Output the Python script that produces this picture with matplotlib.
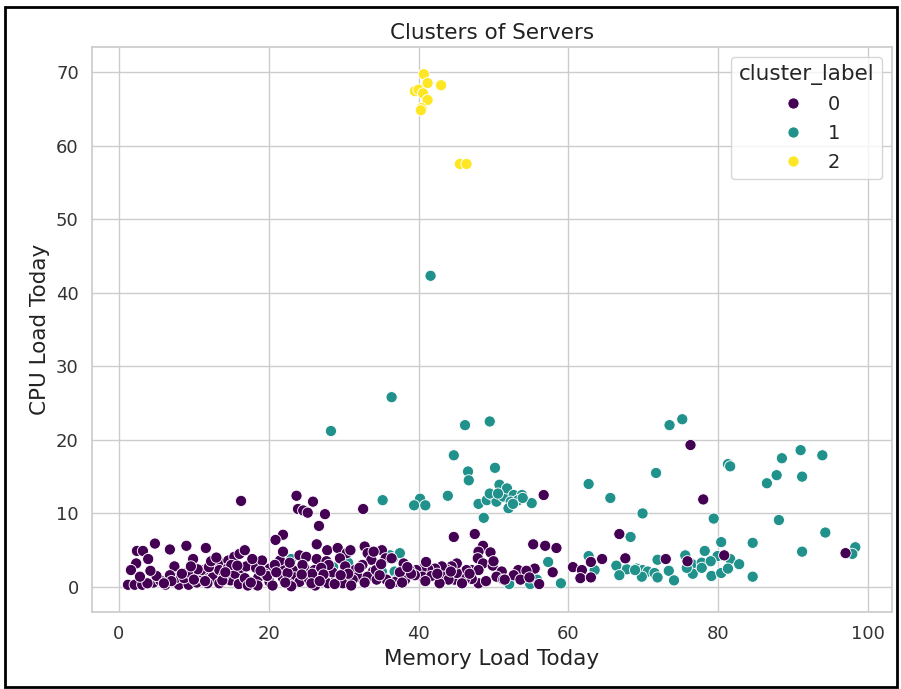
import matplotlib
matplotlib.use('Agg')
import matplotlib.pyplot as plt
import numpy as np
import pandas as pd
import seaborn as sns

# cluster 0 (purple) - memory / cpu
mem0 = [16.3, 23.7, 25.9, 23.9, 24.6, 25.2, 27.5, 26.7, 32.6, 21.9, 20.9, 76.3, 78.0, 56.7,
        44.7, 47.5, 66.8, 55.3, 56.9, 58.4, 4.8, 6.8, 9.0, 11.6, 2.4, 3.2, 3.9, 2.3, 1.6, 9.9, 7.4,
        1.2, 2.1, 3.1, 4.6, 6.2, 8.0, 9.3, 7.6, 8.7, 9.9, 11.2, 12.8, 13.7, 14.6, 11.2, 12.5, 13.4,
        14.5, 15.4, 16.1, 11.8, 13.4, 14.9, 11.0, 6.8, 5.5, 10.4, 12.0, 15.5, 16.0, 15.0, 10.5, 3.8,
        5.0, 9.2, 7.0, 12.3, 14.0, 16.5, 13.0,
        17.0, 18.3, 20.1, 21.6, 23.2, 24.8, 26.1, 16.8, 18.6, 20.1, 21.9, 23.4, 24.1, 25.4, 26.7,
        27.9, 29.0, 29.9, 17.2, 18.5, 20.5, 22.7, 26.2, 21.5, 19.1, 16.8, 21.9, 27.8, 29.2, 32.8,
        30.4, 30.9, 26.4, 24.1, 25.0, 26.4, 27.7, 29.5, 31.5, 33.2, 33.7, 33.9, 31.9, 33.2, 31.2,
        28.5, 30.2, 32.5, 19.5, 22.5, 25.8, 28.0, 23.0, 31.0, 32.8, 27.0, 20.8, 17.8, 22.8, 24.5,
        48.6, 49.6, 48.0, 47.9, 48.6, 49.9, 47.1, 48.0, 46.4, 51.1, 50.4, 51.3, 48.0, 47.1,
        46.2, 44.8, 45.1, 45.1, 44.4, 43.7, 43.1, 42.2, 41.3, 40.4, 39.7, 38.8, 38.0, 38.2, 36.9,
        40.5, 39.5, 41.7, 43.3, 44.0, 35.7, 34.4, 34.3, 35.1, 35.6, 34.0, 36.4, 42.8, 37.5, 49.0,
        50.0,
        57.9, 56.1, 55.5, 53.3, 54.4, 52.7, 53.6, 51.5, 60.6, 61.8, 61.6, 63.0, 63.0, 64.5, 67.6,
        54.8, 73.0, 75.9, 80.8, 97.0,
        # extra points in the dense lower band
        6.0, 8.4, 10.0, 11.5, 13.8, 15.8, 17.6, 19.8, 21.0, 22.2, 24.4, 25.7, 27.3, 28.8, 30.6,
        32.1, 34.8, 36.2, 37.8, 39.0, 40.9, 42.5, 45.8, 46.8, 2.8, 4.2, 9.6, 14.2, 18.9, 26.8,
        29.6, 35.0, 38.5, 41.0, 44.3]
cpu0 = [11.7, 12.4, 11.6, 10.6, 10.4, 10.1, 9.9, 8.3, 10.6, 7.1, 6.4, 19.3, 11.9, 12.5,
        6.8, 7.2, 7.2, 5.8, 5.6, 5.3, 5.9, 5.1, 5.6, 5.3, 4.9, 4.9, 3.8, 3.2, 2.3, 3.8, 2.8,
        0.3, 0.3, 0.3, 0.6, 0.3, 0.3, 0.3, 1.2, 1.2, 1.5, 1.9, 3.0, 3.2, 3.6, 1.2, 1.3, 2.3,
        2.5, 4.1, 4.5, 0.5, 0.5, 0.9, 2.3, 1.6, 0.9, 0.6, 2.7, 1.8, 0.4, 3.0, 2.4, 0.5,
        1.5, 2.0, 0.8, 3.5, 1.5, 2.5, 4.0,
        2.8, 2.6, 2.5, 2.5, 2.3, 2.5, 2.3, 1.2, 1.3, 0.7, 1.2, 1.3, 0.7, 1.0, 1.3,
        0.5, 1.2, 0.5, 0.2, 0.2, 0.2, 0.4, 0.2, 3.6, 3.6, 5.0, 4.8, 5.0, 5.3, 5.5,
        4.6, 5.0, 5.8, 4.3, 4.1, 3.8, 3.5, 3.9, 2.3, 4.6, 3.7, 2.1, 1.4, 1.4, 1.0,
        2.0, 2.8, 3.0, 1.8, 1.9, 1.8, 3.0, 0.1, 0.2, 0.6, 2.6, 3.0, 3.8, 3.3, 3.0,
        5.6, 4.7, 4.8, 3.9, 3.2, 2.9, 2.3, 2.3, 2.3, 2.1, 1.4, 1.0, 0.5, 1.1,
        1.1, 1.0, 1.9, 3.2, 2.8, 2.4, 2.8, 2.5, 2.4, 2.4, 2.3, 2.3, 3.2, 1.0, 0.7,
        1.4, 1.6, 1.5, 1.4, 1.0, 1.0, 1.0, 2.3, 5.0, 3.9, 4.8, 3.9, 0.5, 2.0, 0.8,
        3.5,
        2.0, 0.4, 2.5, 2.3, 2.2, 1.6, 1.0, 1.0, 2.7, 2.3, 1.2, 1.3, 3.4, 3.8, 3.9,
        1.3, 3.8, 3.5, 4.3, 4.6,
        0.5, 1.8, 1.0, 0.8, 0.9, 2.9, 0.6, 1.5, 2.0, 0.6, 1.7, 0.5, 1.7, 0.4, 1.8,
        2.6, 1.6, 0.4, 0.6, 1.8, 0.8, 1.8, 0.5, 1.8, 1.4, 2.2, 2.8, 2.0, 2.2, 0.8,
        1.6, 3.1, 2.7, 3.4, 2.1]

# cluster 1 (teal)
mem1 = [41.6, 36.4, 28.3, 46.2, 49.5, 73.5, 75.2, 44.7, 46.6, 46.7, 50.2, 43.9, 35.2, 40.2,
        39.4, 40.9, 48.7, 48.0, 49.1, 49.9, 50.8, 50.4, 51.3, 51.8, 52.7, 53.8, 52.3, 52.0, 53.3,
        55.1, 49.5, 50.6, 53.9, 52.6, 62.7, 65.6, 71.7, 69.9, 68.3, 81.3, 81.6, 79.4, 88.5, 91.0,
        93.9, 87.8, 86.5, 91.2, 88.1, 94.3, 91.2, 98.3, 97.9, 80.4, 84.6,
        78.2, 75.6, 71.9, 79.9, 81.6, 82.8, 76.5, 77.8, 79.0, 69.1, 69.9, 70.6, 71.5, 73.4, 71.9,
        69.8, 74.1, 76.6, 79.1, 80.4, 81.3, 84.6, 75.8, 77.8, 57.3, 59.0, 54.9, 52.1, 55.8, 62.7,
        63.5, 66.4, 67.8, 68.9, 66.8, 36.2, 36.6, 35.1, 36.8, 37.1, 23.0, 28.6, 30.6, 33.5, 37.5]
cpu1 = [42.3, 25.8, 21.2, 22.0, 22.5, 22.0, 22.8, 17.9, 15.7, 14.5, 16.2, 12.4, 11.8, 12.0,
        11.1, 11.1, 9.4, 11.3, 11.8, 12.5, 13.9, 11.6, 12.3, 13.4, 12.5, 12.5, 11.6, 10.7, 11.8,
        11.4, 12.7, 12.7, 12.1, 11.3, 14.0, 12.1, 15.5, 10.0, 6.8, 16.7, 16.4, 9.3, 17.5, 18.6,
        17.9, 15.2, 14.1, 15.0, 9.1, 7.4, 4.8, 5.4, 4.5, 6.1, 6.0,
        4.9, 4.3, 3.7, 4.2, 3.8, 3.1, 3.1, 3.3, 3.5, 2.5, 2.3, 2.1, 1.9, 2.2, 1.3,
        1.4, 0.9, 1.8, 1.5, 1.9, 2.5, 1.4, 2.6, 2.6, 3.4, 0.5, 0.4, 0.4, 1.0, 4.2,
        2.3, 2.9, 2.4, 2.3, 1.6, 4.3, 3.9, 2.1, 2.1, 1.0, 3.8, 2.7, 3.3, 1.5, 4.6]

# cluster 2 (yellow)
mem2 = [40.7, 41.2, 43.0, 39.5, 40.0, 40.6, 41.2, 40.4, 40.3, 45.5, 46.4]
cpu2 = [69.7, 68.5, 68.2, 67.4, 67.6, 67.1, 66.2, 65.1, 64.8, 57.5, 57.5]

df = pd.DataFrame({
    'Memory Load Today': mem1 + mem0 + mem2,
    'CPU Load Today': cpu1 + cpu0 + cpu2,
    'cluster_label': [1] * len(mem1) + [0] * len(mem0) + [2] * len(mem2),
})

sns.set_theme(style='whitegrid')
fig = plt.figure(figsize=(9.01, 6.89), dpi=100)
ax = fig.add_axes([92 / 901, 77 / 689, 800 / 901, 565 / 689])

sns.scatterplot(data=df, x='Memory Load Today', y='CPU Load Today', hue='cluster_label',
                palette='viridis', s=65, ax=ax)
ax.set_xlim(-3.6, 103.2)
ax.set_ylim(-3.4, 73.4)
ax.set_xticks([0, 20, 40, 60, 80, 100])
ax.set_yticks([0, 10, 20, 30, 40, 50, 60, 70])
ax.tick_params(labelsize=13, colors='#333333')
ax.set_xlabel('Memory Load Today', fontsize=15.5, color='#222222')
ax.set_ylabel('CPU Load Today', fontsize=15.5, color='#222222')
ax.set_title('Clusters of Servers', fontsize=15.5, color='#222222')
leg = ax.legend(title='cluster_label', loc='upper right', fontsize=14, title_fontsize=15.5)

# screenshot frame
fig.add_artist(plt.Rectangle((5 / 901, 2 / 689), 892 / 901, 680 / 689, transform=fig.transFigure,
                             fill=False, edgecolor='black', lw=2))

fig.savefig('out.png', dpi=100)
